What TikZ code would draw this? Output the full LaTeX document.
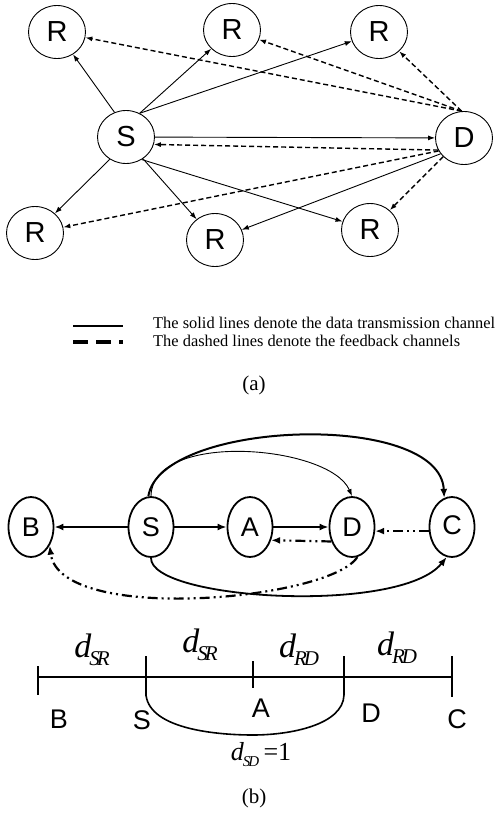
\documentclass[tikz,border=0pt]{standalone}
\usepackage{fontspec}
\setmainfont{Liberation Serif}
\setsansfont{Liberation Sans}
\usetikzlibrary{shapes.geometric, arrows.meta}

\begin{document}
\begin{tikzpicture}[x=1pt, y=-1pt,
    relay/.style={ellipse, draw, line width=0.9pt, minimum width=57pt, minimum height=53pt, inner sep=0pt, font=\sffamily\fontsize{29}{29}\selectfont},
    term/.style={ellipse, draw, line width=1.8pt, minimum width=45pt, minimum height=60pt, inner sep=0pt, font=\sffamily\fontsize{27}{27}\selectfont},
    datach/.style={line width=0.9pt, -{Latex[length=7pt, width=5pt]}},
    fbch/.style={line width=1.4pt, dash pattern=on 5pt off 3pt, -{Latex[length=7pt, width=5pt]}},
    thickch/.style={line width=2pt, -{Latex[length=9pt, width=7pt]}},
    dotch/.style={line width=2.2pt, dash pattern=on 10pt off 4pt on 2pt off 4pt on 2pt off 4pt, -{Latex[length=9pt, width=7pt]}},
    lbl/.style={font=\sffamily\fontsize{27}{27}\selectfont},
    dist/.style={font=\itshape\fontsize{34}{34}\selectfont}]
  \useasboundingbox (0,0) rectangle (498,814);

  % (a) relays around S and D
  \node[relay] (s) at (126,137) {S};
  \node[relay] (d) at (464,138) {D};
  \node[relay] (r1) at (57,32) {R};
  \node[relay] (r2) at (232,30) {R};
  \node[relay] (r3) at (379,32) {R};
  \node[relay] (r4) at (35,233) {R};
  \node[relay] (r5) at (215,240) {R};
  \node[relay] (r6) at (370,230) {R};

  \draw[datach] (s.115) -- (r1);
  \draw[datach] (s.60) -- (r2);
  \draw[datach] (s.60) -- (r3);
  \draw[datach] (s) -- (d);
  \draw[datach] (s.234) -- (r4);
  \draw[datach] (s.-52) -- (r5);
  \draw[datach] (s.-55) -- (r6);
  \draw[datach] (d.214) -- (r5);

  \draw[fbch] (d.95) -- (r1);
  \draw[fbch] (d.95) -- (r2);
  \draw[fbch] (d.95) -- (r3);
  \draw[fbch] (d.205) -- (s.-15);
  \draw[fbch] (d.207) -- (r4);
  \draw[fbch] (d.222) -- (r6);

  % legend
  \coordinate (l1a) at (73,326);
  \coordinate (l1b) at (123,326);
  \coordinate (l2a) at (73,342);
  \coordinate (l2b) at (123,342);
  \draw[line width=1.8pt] (l1a) -- (l1b);
  \draw[line width=3.2pt, dash pattern=on 15pt off 8pt] (l2a) -- (l2b);
  \node[anchor=west, inner sep=0pt, font=\fontsize{16.4}{16.4}\selectfont] (leg1) at (153,323) {The solid lines denote the data transmission channel};
  \node[anchor=west, inner sep=0pt, font=\fontsize{16.4}{16.4}\selectfont] (leg2) at (153,341) {The dashed lines denote the feedback channels};
  \node[font=\fontsize{21}{21}\selectfont] (capa) at (254,385) {(a)};

  % (b) nodes on a line
  \node[term] (b) at (31,527) {B};
  \node[term] (sb) at (151,527) {S};
  \node[term] (a) at (250,527) {A};
  \node[term] (db) at (352,527) {\raisebox{-5pt}{D}};
  \node[term] (c) at (452,527) {\raisebox{4pt}{C}};

  \draw[thickch] (sb) -- (b);
  \draw[thickch] (sb) -- (a);
  \draw[thickch] (a) -- (db);
  \draw[dotch] (db.215) -- (a.-32);
  \draw[dotch] (c.190) -- (db.-10);
  \draw[line width=0.9pt, -{Latex[length=7pt, width=5pt]}] (sb.north) .. controls (152,430) and (330,445) .. (db.north);
  \draw[thickch] (sb.95) .. controls (160,420) and (440,410) .. (c.105);
  \draw[line width=1.8pt, -{Latex[length=9pt, width=7pt]}] (sb.south) .. controls (150,600) and (400,615) .. (c.-100);
  \draw[dotch] (db.-80) .. controls (330,600) and (60,625) .. (b.-45);

  % distance line
  \coordinate (tb) at (38,677);
  \coordinate (ts) at (146,677);
  \coordinate (ta) at (253,677);
  \coordinate (td) at (344,677);
  \coordinate (tc) at (452,677);
  \draw[line width=1.8pt] (tb) -- (tc);
  \draw[line width=1.3pt] (38,666) -- (38,695);
  \draw[line width=1.3pt] (146,656) -- (146,696);
  \draw[line width=1.3pt] (253,661) -- (253,688);
  \draw[line width=1.3pt] (344,656) -- (344,695);
  \draw[line width=1.3pt] (452,656) -- (452,697);
  \draw[line width=1.6pt] (ts) -- (146,695) .. controls (150,730) and (220,735) .. (253,735) .. controls (290,735) and (343,725) .. (344,695) -- (td);

  \node[dist] (d1) at (92,650) {d\kern-2pt\raisebox{-8pt}{\fontsize{21}{21}\selectfont S\kern-3pt R}};
  \node[dist] (d2) at (200,645) {d\kern-2pt\raisebox{-8pt}{\fontsize{21}{21}\selectfont S\kern-3pt R}};
  \node[dist] (d3) at (299,650) {d\kern-2pt\raisebox{-8pt}{\fontsize{21}{21}\selectfont R\kern-3pt D}};
  \node[dist] (d4) at (397,648) {d\kern-2pt\raisebox{-8pt}{\fontsize{21}{21}\selectfont R\kern-3pt D}};

  \node[lbl] (nb) at (59,719) {B};
  \node[lbl] (ns) at (142,720) {S};
  \node[lbl] (na) at (261,708) {A};
  \node[lbl] (nd) at (371,713) {D};
  \node[lbl] (nc) at (457,719) {C};

  \node[font=\fontsize{26}{26}\selectfont] (dsd) at (261,755) {\textit{d}\kern-1pt\raisebox{-6pt}{\itshape\fontsize{15}{15}\selectfont S\kern-2pt D}\,=1};
  \node[font=\fontsize{21}{21}\selectfont] (capb) at (254,798) {(b)};
\end{tikzpicture}
\end{document}
